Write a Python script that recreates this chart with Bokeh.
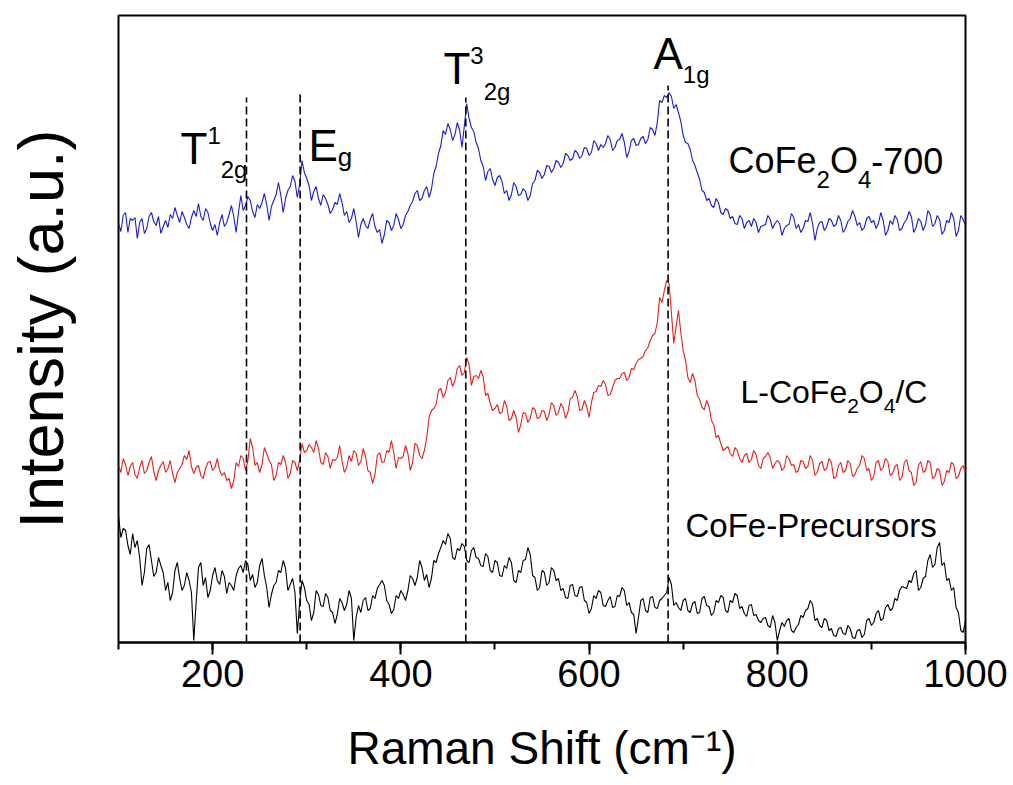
from bokeh.plotting import figure
from bokeh.models import Range1d, SingleIntervalTicker, FixedTicker, Label
from bokeh.embed import file_html
from bokeh.resources import INLINE

# ---------------- data ----------------
# Raman shift grid, cm-1 (100 ... 1000, step 2.5)
shift = [100 + 2.5 * i for i in range(361)]

cofe2o4_700 = [
    419, 411, 427, 430, 410, 424, 422, 425, 404, 420, 424, 409, 414, 426, 430, 421, 417, 426, 409, 416,
    422, 415, 428, 424, 435, 427, 420, 431, 425, 418, 414, 425, 432, 426, 439, 426, 422, 434, 430, 419,
    412, 418, 407, 420, 428, 416, 420, 428, 437, 426, 410, 430, 447, 432, 437, 446, 442, 431, 425, 438,
    434, 440, 449, 438, 422, 436, 442, 448, 460, 447, 430, 444, 452, 456, 467, 461, 445, 458, 482, 470,
    464, 457, 442, 451, 456, 444, 437, 448, 444, 438, 429, 433, 440, 438, 449, 440, 427, 431, 420, 424,
    434, 421, 405, 418, 424, 417, 414, 423, 429, 416, 410, 413, 399, 408, 422, 420, 412, 417, 429, 423,
    414, 418, 427, 431, 437, 441, 449, 452, 442, 444, 452, 456, 445, 453, 469, 476, 489, 497, 512, 508,
    519, 513, 502, 508, 520, 512, 495, 517, 539, 524, 515, 511, 500, 494, 482, 476, 462, 471, 474, 463,
    457, 465, 467, 461, 449, 452, 442, 448, 460, 456, 447, 448, 454, 451, 442, 447, 459, 462, 472, 470,
    464, 468, 477, 476, 470, 474, 482, 480, 475, 479, 489, 487, 482, 484, 492, 490, 484, 487, 495, 494,
    487, 490, 502, 499, 492, 498, 495, 499, 507, 503, 492, 495, 502, 503, 509, 500, 485, 491, 502, 504,
    497, 498, 504, 506, 499, 503, 515, 513, 507, 520, 542, 540, 547, 545, 550, 546, 534, 538, 530, 521,
    507, 500, 499, 493, 482, 477, 470, 463, 452, 450, 442, 444, 437, 435, 444, 440, 430, 428, 434, 432,
    424, 426, 419, 418, 427, 424, 414, 420, 422, 416, 424, 420, 410, 416, 417, 418, 427, 423, 414, 419,
    422, 419, 407, 414, 417, 418, 429, 425, 414, 418, 410, 414, 422, 421, 430, 419, 402, 414, 420, 421,
    412, 416, 424, 422, 416, 418, 427, 422, 410, 414, 421, 424, 432, 426, 417, 420, 412, 415, 424, 426,
    420, 422, 414, 419, 430, 422, 407, 412, 422, 418, 427, 423, 412, 414, 420, 423, 431, 426, 410, 415,
    424, 421, 412, 418, 432, 428, 416, 419, 427, 423, 408, 412, 422, 420, 430, 424, 406, 412, 427, 423,
    417,
]

l_cofe2o4_c = [
    177, 170, 184, 178, 167, 176, 180, 168, 164, 175, 182, 169, 172, 180, 186, 171, 162, 172, 177, 181,
    170, 174, 182, 169, 160, 170, 174, 178, 187, 183, 192, 176, 169, 175, 177, 167, 164, 174, 180, 181,
    172, 175, 184, 172, 167, 170, 162, 164, 154, 162, 180, 176, 187, 184, 172, 182, 204, 195, 177, 180,
    170, 178, 195, 189, 182, 178, 162, 167, 180, 178, 187, 180, 164, 169, 182, 180, 172, 182, 199, 190,
    192, 198, 195, 190, 202, 194, 180, 178, 190, 186, 174, 183, 182, 185, 197, 182, 170, 175, 187, 181,
    192, 189, 177, 181, 194, 186, 172, 170, 159, 168, 187, 190, 180, 181, 192, 190, 202, 190, 174, 185,
    184, 186, 197, 189, 172, 180, 199, 197, 187, 184, 192, 205, 225, 232, 234, 238, 252, 254, 245, 250,
    262, 265, 256, 262, 274, 277, 267, 270, 285, 278, 257, 266, 267, 264, 272, 266, 247, 249, 239, 232,
    234, 238, 229, 230, 242, 236, 222, 224, 232, 225, 210, 218, 230, 229, 220, 224, 235, 233, 224, 225,
    232, 231, 222, 228, 240, 237, 227, 230, 239, 235, 224, 230, 244, 245, 252, 246, 232, 233, 242, 236,
    225, 240, 250, 251, 257, 256, 262, 258, 247, 248, 255, 262, 264, 264, 269, 270, 262, 265, 274, 273,
    279, 283, 284, 286, 292, 295, 302, 307, 309, 320, 345, 340, 352, 362, 359, 330, 299, 316, 332, 310,
    292, 282, 265, 260, 269, 262, 247, 243, 235, 233, 242, 236, 222, 218, 205, 207, 199, 192, 194, 196,
    189, 186, 195, 192, 184, 180, 187, 189, 180, 183, 192, 188, 177, 174, 184, 186, 190, 185, 174, 179,
    182, 180, 172, 175, 187, 184, 177, 178, 170, 172, 182, 181, 174, 176, 187, 182, 167, 170, 179, 181,
    172, 174, 184, 180, 164, 166, 177, 180, 170, 172, 182, 179, 166, 168, 174, 177, 187, 184, 172, 174,
    162, 166, 180, 182, 172, 175, 184, 181, 167, 169, 176, 178, 162, 165, 180, 183, 172, 170, 157, 160,
    177, 181, 170, 172, 182, 180, 164, 166, 174, 172, 157, 161, 172, 170, 180, 178, 164, 166, 174, 177,
    170,
]

cofe_precursors = [
    127, 105, 114, 112, 97, 88, 109, 95, 102, 85, 57, 70, 94, 98, 82, 66, 70, 85, 77, 70,
    52, 60, 42, 50, 72, 80, 64, 52, 57, 70, 62, 50, 2, 40, 75, 80, 57, 65, 45, 52,
    67, 75, 62, 58, 72, 66, 49, 60, 57, 52, 67, 74, 77, 70, 82, 78, 62, 68, 55, 60,
    77, 84, 67, 55, 35, 48, 57, 60, 72, 70, 82, 74, 52, 58, 64, 50, 9, 40, 62, 55,
    42, 38, 22, 30, 52, 48, 37, 36, 49, 45, 32, 30, 19, 28, 44, 40, 32, 38, 52, 44,
    2, 25, 37, 30, 42, 45, 32, 34, 47, 44, 54, 58, 62, 57, 42, 38, 29, 33, 47, 44,
    52, 48, 42, 52, 67, 64, 57, 65, 82, 75, 62, 68, 55, 64, 82, 80, 89, 95, 102, 98,
    109, 104, 85, 83, 94, 92, 99, 96, 82, 80, 92, 95, 85, 84, 77, 76, 89, 86, 72, 70,
    82, 80, 67, 66, 77, 74, 85, 80, 62, 60, 72, 70, 82, 83, 95, 88, 67, 65, 52, 55,
    72, 70, 57, 60, 75, 72, 62, 64, 52, 54, 45, 44, 57, 58, 47, 46, 55, 56, 42, 40,
    29, 34, 47, 44, 52, 50, 37, 36, 42, 46, 35, 36, 47, 46, 55, 52, 37, 40, 30, 28,
    9, 25, 42, 44, 32, 30, 45, 46, 35, 34, 42, 44, 47, 50, 65, 58, 37, 40, 35, 32,
    42, 44, 32, 30, 39, 41, 29, 30, 44, 46, 37, 36, 27, 30, 42, 40, 47, 45, 32, 30,
    42, 40, 49, 47, 34, 36, 29, 26, 37, 38, 27, 28, 22, 20, 24, 25, 17, 15, 27, 20,
    2, 12, 20, 16, 22, 24, 12, 10, 15, 18, 27, 25, 32, 34, 42, 38, 22, 24, 17, 15,
    24, 22, 12, 14, 7, 6, 14, 15, 9, 8, 17, 14, 5, 4, 12, 13, 5, 8, 22, 24,
    17, 20, 29, 32, 22, 24, 35, 38, 32, 34, 44, 42, 52, 56, 55, 54, 62, 60, 69, 72,
    52, 55, 64, 66, 82, 88, 75, 78, 95, 100, 77, 80, 62, 64, 52, 55, 35, 30, 12, 10,
    22,
]

mode_shift = [236, 293, 469, 684]   # dashed reference lines (cm-1)
mode_top = [545, 550, 545, 557]

series_colors = ["#1a1ad2", "#e5201c", "#000000"]
x_ticks_interval = 200

# ---------------- helpers ----------------
ARIAL = {
    "C": .722, "o": .556, "F": .611, "e": .556, "O": .778, "-": .333, "7": .556, "0": .556,
    "L": .556, "/": .278, "P": .667, "r": .333, "c": .5, "u": .556, "s": .5, "T": .611,
    "E": .667, "A": .667, "g": .556, "1": .556, "2": .556, "3": .556, "4": .556,
}
FONT = "Liberation Sans"
BASE_FIX = 0.35   # compensates the label box anchor so text sits on its baseline


def tw(s, size):
    return sum(ARIAL.get(c, .556) for c in s) * size


def rich(p, x, y, parts):
    dx = 0.0
    for txt, size, dy in parts:
        p.add_layout(Label(x=x, y=y, x_offset=dx, y_offset=dy + BASE_FIX * size,
                           text=txt, text_font=FONT, text_font_size=f"{size}px",
                           text_color="black", text_align="left", text_baseline="alphabetic"))
        dx += tw(txt, size)


# ---------------- figure ----------------
p = figure(width=1013, height=785, x_range=Range1d(100, 1000), y_range=Range1d(0, 627),
           output_backend="svg", toolbar_location=None, title=None,
           min_border_left=118, min_border_right=48, min_border_top=15, min_border_bottom=143)
p.background_fill_color = "white"
p.border_fill_color = "white"
p.outline_line_color = "black"
p.outline_line_width = 2
p.grid.visible = False

ax = p.xaxis[0]
ax.ticker = SingleIntervalTicker(interval=x_ticks_interval, num_minor_ticks=2)
ax.axis_line_width = 2
ax.major_tick_line_width = 2
ax.minor_tick_line_width = 2
ax.major_tick_in = 0
ax.major_tick_out = 12
ax.minor_tick_in = 0
ax.minor_tick_out = 7
ax.major_label_text_font = FONT
ax.major_label_text_font_size = "38px"
ax.major_label_text_color = "black"
ax.major_label_standoff = 5
ax.axis_label = "Raman Shift (cm\u207b\u00b9)"
ax.axis_label_text_font = FONT
ax.axis_label_text_font_size = "46px"
ax.axis_label_text_font_style = "normal"
ax.axis_label_text_color = "black"
ax.axis_label_standoff = 32

ay = p.yaxis[0]
ay.ticker = FixedTicker(ticks=[])
ay.axis_line_color = None
ay.major_tick_line_color = None
ay.minor_tick_line_color = None
ay.major_tick_out = 0
ay.major_tick_in = 0
ay.minor_tick_out = 0
ay.minor_tick_in = 0
ay.major_label_standoff = 0
ay.major_label_text_font_size = "0px"
ay.axis_label = "Intensity (a.u.)"
ay.axis_label_text_font = FONT
ay.axis_label_text_font_size = "63px"
ay.axis_label_text_font_style = "normal"
ay.axis_label_text_color = "black"
ay.axis_label_standoff = 43

for ys, col in zip([cofe2o4_700, l_cofe2o4_c, cofe_precursors], series_colors):
    p.line(shift, ys, line_color=col, line_width=1.1)

p.segment(x0=mode_shift, y0=[0] * len(mode_shift), x1=mode_shift, y1=mode_top,
          line_color="black", line_width=1.6, line_dash="8 4")

# mode labels
rich(p, 165.9, 479, [("T", 44, 0), ("1", 24, 20), ("2g", 24, -14)])
rich(p, 301.9, 482, [("E", 44, 0), ("g", 26, -6)])
rich(p, 445.3, 559, [("T", 44, 0), ("3", 24, 20), ("2g", 24, -16)])
rich(p, 668.5, 574, [("A", 44, 0), ("1g", 24, -14)])

# series labels
rich(p, 748.2, 469, [("CoFe", 36, 0), ("2", 24, -14), ("O", 36, 0), ("4", 24, -14), ("-700", 36, 0)])
rich(p, 760.9, 239, [("L-CoFe", 32, 0), ("2", 21, -10), ("O", 32, 0), ("4", 21, -10), ("/C", 32, 0)])
rich(p, 702.5, 105, [("CoFe-Precursors", 33, 0)])

open("out.html", "w").write(file_html(p, INLINE))
